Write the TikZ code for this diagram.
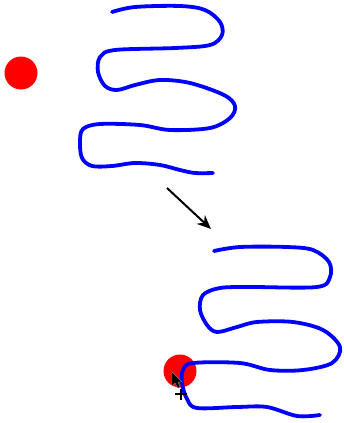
\documentclass[tikz,border=0pt]{standalone}
\usetikzlibrary{arrows.meta}
\tikzset{
  wiggle/.style={color=blue,line width=3.8pt,line cap=round,line join=round},
  dot/.style={circle,fill=red,inner sep=0pt,minimum size=33pt}
}
\begin{document}
\begin{tikzpicture}[x=1pt,y=-1pt]
\useasboundingbox (0,0) rectangle (343,423);
% before
\node[dot] (ball1) at (21,73) {};
\draw[wiggle] plot[smooth,tension=0.55] coordinates {(112,12) (135,7) (180,6) (205,10) (220,22) (222,35) (210,45) (175,48) (115,50) (100,57) (98,72) (105,86) (117,90) (135,85) (160,80) (190,83) (224,95) (235,106) (230,118) (210,128) (170,130) (140,125) (100,124) (83,129) (80,142) (82,158) (92,166) (112,166) (135,163) (160,165) (180,170) (195,173) (213,173)};
% arrow
\coordinate (from) at (167,188);
\coordinate (to) at (211,229);
\draw[line width=2pt,-{Stealth[length=14pt,width=12pt]}] (from) -- (to);
% after
\node[dot] (ball2) at (180,371) {};
\draw[wiggle] plot[smooth,tension=0.55] coordinates {(214,251) (240,247) (287,247) (313,250) (329,262) (330,277) (317,287) (250,287) (220,288) (203,295) (200,310) (207,325) (217,332) (237,327) (257,322) (293,322) (323,330) (340,347) (332,363) (303,370) (270,370) (240,363) (193,363) (183,370) (182,383) (187,399) (197,408) (237,407) (267,407) (297,416) (320,415)};
% cursor
\filldraw[fill=black,draw=gray,line width=0.4pt] (172,372) -- (172,386) -- (175,383) -- (178,388) -- (180,387) -- (178,382) -- (182,382) -- cycle;
\draw[line width=1.2pt] (175,394) -- (187,394) (181,389) -- (181,400);
\end{tikzpicture}
\end{document}
